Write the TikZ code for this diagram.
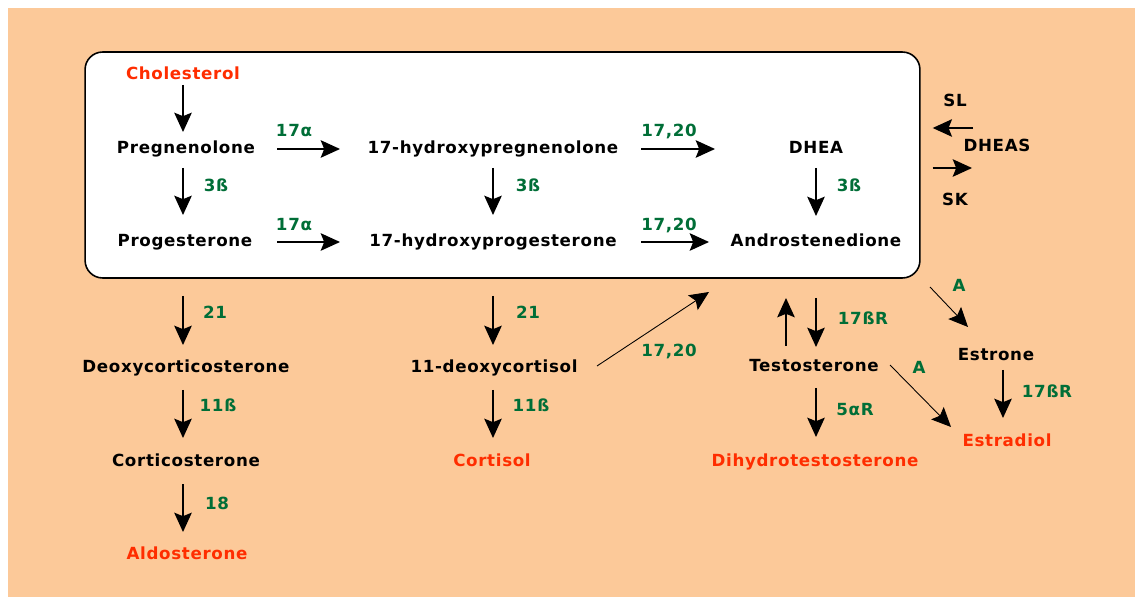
\documentclass[tikz,border=0pt]{standalone}
\usepackage{fontspec}
\setmainfont{DejaVu Sans}[LetterSpace=4]
\usetikzlibrary{arrows.meta,calc}
\definecolor{peach}{RGB}{252,201,153}
\definecolor{prodred}{RGB}{255,45,0}
\definecolor{enzgreen}{RGB}{0,110,55}

\begin{document}
\begin{tikzpicture}[x=0.02cm, y=-0.02cm,
    cmpd/.style={font=\bfseries\fontsize{9.5}{11}\selectfont, inner sep=0pt, text height=7pt, text depth=2pt},
    prod/.style={cmpd, text=prodred},
    enz/.style={cmpd, text=enzgreen},
    rxn/.style={-{Stealth[length=11pt, width=10pt, inset=2pt]}, line width=0.8pt},
    diag/.style={rxn, line width=0.5pt}]
    % 背景
    \useasboundingbox (0,0) rectangle (1135,597);
    \fill[peach] (8,8) rectangle (1135,597);
    \node[draw, fill=white, line width=0.9pt, rounded corners=10pt, inner sep=0pt,
          minimum width=16.7cm, minimum height=4.52cm] (box) at (502.5,165) {};

    % 化合物
    \node[prod] (chol) at (183,75) {Cholesterol};
    \node[cmpd] (preg) at (186,149) {Pregnenolone};
    \node[cmpd] (ohpreg) at (493,149) {17-hydroxypregnenolone};
    \node[cmpd] (dhea) at (816,149) {DHEA};
    \node[cmpd] (prog) at (185,242) {Progesterone};
    \node[cmpd] (ohprog) at (493,242) {17-hydroxyprogesterone};
    \node[cmpd] (andro) at (816,242) {Androstenedione};
    \node[cmpd] (sl) at (955,102) {SL};
    \node[cmpd] (dheas) at (997,147) {DHEAS};
    \node[cmpd] (sk) at (955,201) {SK};
    \node[cmpd] (doc) at (186,368) {Deoxycorticosterone};
    \node[cmpd] (cortico) at (186,462) {Corticosterone};
    \node[prod] (aldo) at (187,555) {Aldosterone};
    \node[cmpd] (deoxcort) at (494,368) {11-deoxycortisol};
    \node[prod] (cortisol) at (492,462) {Cortisol};
    \node[cmpd] (testo) at (814,367) {Testosterone};
    \node[prod] (dht) at (815,462) {Dihydrotestosterone};
    \node[cmpd] (estrone) at (996,356) {Estrone};
    \node[prod] (estradiol) at (1007,442) {Estradiol};

    % 酶
    \node[enz] (hyd1) at (294,132) {17α};
    \node[enz] (lya1) at (669,132) {17,20};
    \node[enz] (hsd1) at (216,187) {3ß};
    \node[enz] (hsd2) at (528,187) {3ß};
    \node[enz] (hsd3) at (849,187) {3ß};
    \node[enz] (hyd2) at (294,226) {17α};
    \node[enz] (lya2) at (669,226) {17,20};
    \node[enz] (h21a) at (215,314) {21};
    \node[enz] (h21b) at (528,314) {21};
    \node[enz] (h11a) at (218,407) {11ß};
    \node[enz] (h11b) at (531,407) {11ß};
    \node[enz] (h18) at (217,505) {18};
    \node[enz] (lya3) at (669,352) {17,20};
    \node[enz] (red1) at (863,320) {17ßR};
    \node[enz] (red5) at (855,411) {5αR};
    \node[enz] (aro1) at (959,287) {A};
    \node[enz] (aro2) at (919,369) {A};
    \node[enz] (red2) at (1047,393) {17ßR};

    % 箭头
    \draw[rxn] ($(chol)+(0,10)$) -- ($(preg)+(-3,-17)$);
    \draw[rxn] ($(preg)+(-3,19)$) -- ($(prog)+(-2,-27)$);
    \draw[rxn] ($(ohpreg)+(0,19)$) -- ($(ohprog)+(0,-27)$);
    \draw[rxn] ($(dhea)+(0,19)$) -- ($(andro)+(0,-26)$);
    \draw[rxn] ($(preg)+(91,0)$) -- ($(ohpreg)+(-153,0)$);
    \draw[rxn] ($(prog)+(92,0)$) -- ($(ohprog)+(-153,0)$);
    \draw[rxn] ($(ohpreg)+(148,0)$) -- ($(dhea)+(-101,0)$);
    \draw[rxn] ($(ohprog)+(148,0)$) -- ($(andro)+(-107,0)$);
    \draw[rxn] ($(dheas)+(-24,-19)$) -- ($(box.east)+(12,-37)$);
    \draw[rxn] ($(box.east)+(12,3)$) -- ($(dheas)+(-25,21)$);

    \draw[rxn] ($(prog)+(-2,54)$) -- ($(doc)+(-3,-23)$);
    \draw[rxn] ($(doc)+(-3,22)$) -- ($(cortico)+(-3,-24)$);
    \draw[rxn] ($(cortico)+(-3,22)$) -- ($(aldo)+(-4,-23)$);
    \draw[rxn] ($(ohprog)+(0,54)$) -- ($(deoxcort)+(-1,-23)$);
    \draw[rxn] ($(deoxcort)+(-1,22)$) -- ($(cortisol)+(1,-24)$);
    \draw[diag] ($(deoxcort)+(103,-2)$) -- ($(andro)+(-107,50)$);

    \draw[rxn] ($(andro)+(0,56)$) -- ($(testo)+(2,-20)$);
    \draw[rxn] ($(testo)+(-28,-21)$) -- ($(andro)+(-30,56)$);
    \draw[rxn] ($(testo)+(2,21)$) -- ($(dht)+(1,-25)$);
    \draw[diag] ($(andro)+(114,45)$) -- ($(estrone)+(-28,-29)$);
    \draw[diag] ($(testo)+(76,-2)$) -- ($(estradiol)+(-56,-15)$);
    \draw[rxn] ($(estrone)+(7,14)$) -- ($(estradiol)+(-4,-24)$);
\end{tikzpicture}
\end{document}
